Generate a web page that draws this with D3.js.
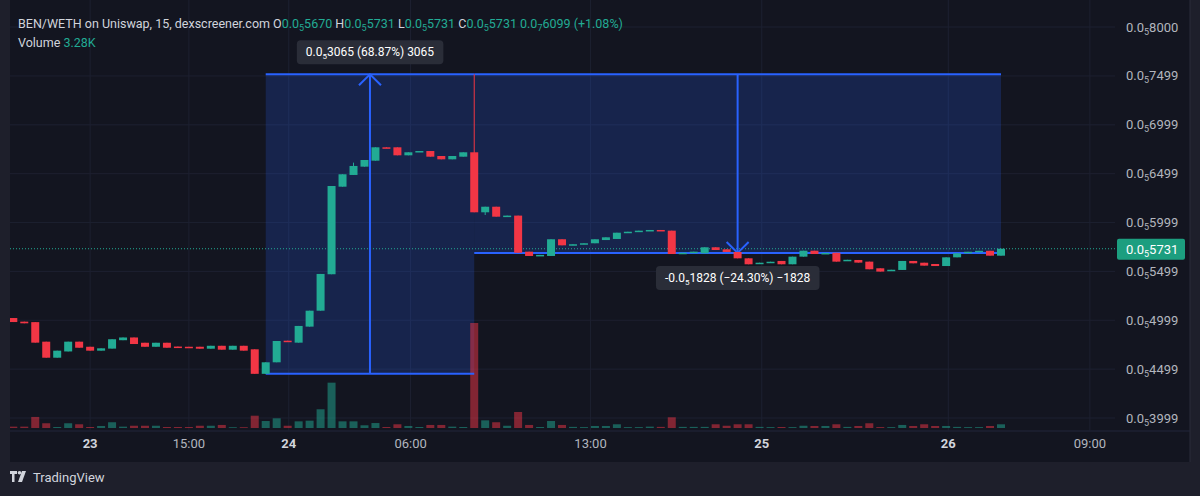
<!DOCTYPE html>
<html>
<head>
<meta charset="utf-8">
<script src="https://cdn.jsdelivr.net/npm/d3@7"></script>
<style>
  html, body { margin: 0; padding: 0; background: #1e1f2b; }
  svg { display: block; font-family: Roboto, "Open Sans", sans-serif; }
</style>
</head>
<body>
<div id="chart"></div>
<script>
// candles (price in units of 0.0₅xxxx)
var opens  = [5022,4985,4980,4780,4616,4680,4780,4728,4688,4709,4795,4823,4769,4728,4769,4730,4728,4728,4708,4738,4698,4738,4702,4451,4569,4790,4770,4934,5097,5470,6366,6486,6571,6632,6769,6769,6687,6725,6731,6680,6646,6673,6718,6104,6161,6059,6070,5701,5660,5657,5828,5766,5777,5787,5820,5831,5895,5905,5916,5923,5916,5685,5690,5684,5746,5725,5698,5633,5582,5592,5606,5572,5650,5711,5680,5690,5612,5616,5599,5531,5510,5514,5606,5588,5575,5554,5643,5690,5700,5710,5660];
var closes = [4981,4968,4770,4616,4688,4780,4718,4688,4712,4805,4823,4756,4728,4769,4718,4725,4722,4708,4738,4698,4738,4688,4451,4569,4787,4780,4941,5097,5473,6373,6493,6578,6639,6769,6760,6687,6718,6731,6673,6646,6680,6718,6104,6161,6059,6070,5690,5657,5668,5828,5766,5777,5787,5828,5848,5895,5905,5916,5923,5916,5677,5690,5701,5746,5718,5698,5633,5572,5588,5598,5572,5650,5711,5677,5688,5599,5618,5589,5521,5497,5516,5606,5582,5558,5554,5643,5684,5700,5710,5660,5731];
// wicks that stick out of the body (index -> value)
var highs = {31: 6612, 42: 7516};
var lows = {43: 6076};
// volume in K
var volumes = [1.2,1.2,9.8,4.2,0.9,4.2,3.3,0.9,1.8,5.1,1.2,2.0,2.0,2.0,0.9,0.9,0.9,2.0,2.0,2.7,0.7,0.7,10.9,6.2,8.6,2.0,5.9,6.5,16.6,40.2,5.9,5.9,2.4,4.4,0.9,3.3,1.8,0.9,2.7,2.7,1.2,0.9,93.1,6.8,5.1,2.0,14.2,2.7,0.9,6.2,2.7,1.0,0.8,1.8,1.8,3.3,0.8,0.8,1.2,1.0,9.5,1.0,1.0,1.0,3.3,2.0,3.3,3.3,1.0,0.8,0.9,0.8,2.0,1.8,1.8,3.3,1.0,1.8,4.2,0.8,0.8,2.7,1.8,3.3,1.8,1.8,1.0,0.8,0.8,1.8,3.28];

var priceTicks = [3999,4499,4999,5499,5999,6499,6999,7499,8000];
var timeLabels = ["23","15:00","24","06:00","13:00","25","26","09:00"];
var timeIndex  = [7,16,25.1,36.2,52.6,68.2,85.2,98.1];
var timeBold   = [true,false,true,false,false,true,true,false];

var lastPrice = 5731;

// measurement tool ranges
var measStart = [23, 42];
var measEnd   = [42, 90];
var measFrom  = [4451, 7516];
var measTo    = [7516, 5688];
var measLabel = [["0.0","5","3065 (68.87%) 3065"], ["-0.0","5","1828 (\u221224.30%) \u22121828"]];

var W = 1200, H = 496;
var plotL = 10, plotR = 1115, plotT = 0, plotB = 431;

var x = d3.scaleLinear().domain([0, 90]).range([13.3, 1001]);
var y = d3.scaleLinear().domain([3999, 8000]).range([418, 27]);
var yv = d3.scaleLinear().domain([0, 100]).range([428, 428 - 112.8]);

var green = "#22ab94", red = "#f23645";

var svg = d3.select("#chart").append("svg")
  .attr("width", W).attr("height", H);

svg.append("rect").attr("width", W).attr("height", H).attr("fill", "#1e1f2b");
svg.append("rect").attr("x", plotL).attr("y", 0).attr("width", 1190 - plotL).attr("height", 462)
  .attr("fill", "#131520");
svg.append("line").attr("x1", 1190).attr("x2", 1190).attr("y1", 0).attr("y2", 462)
  .attr("stroke", "#2a2d3a");
svg.append("line").attr("x1", plotL).attr("x2", 1190).attr("y1", plotB).attr("y2", plotB)
  .attr("stroke", "#23263a");

svg.append("defs").append("clipPath").attr("id", "plotclip")
  .append("rect").attr("x", plotL).attr("y", plotT).attr("width", plotR - plotL).attr("height", plotB - plotT);

var g = svg.append("g").attr("clip-path", "url(#plotclip)");

// grid
g.selectAll(".hgrid").data(priceTicks).enter().append("line")
  .attr("x1", plotL).attr("x2", plotR)
  .attr("y1", function (d) { return y(d); }).attr("y2", function (d) { return y(d); })
  .attr("stroke", "#1d2030");
g.selectAll(".vgrid").data(timeIndex).enter().append("line")
  .attr("y1", 0).attr("y2", plotB)
  .attr("x1", function (d) { return x(d); }).attr("x2", function (d) { return x(d); })
  .attr("stroke", "#1d2030");

// measurement boxes
measStart.forEach(function (s, i) {
  var x0 = x(s), x1 = x(measEnd[i]);
  var ya = y(measFrom[i]), yb = y(measTo[i]);
  g.append("rect").attr("x", x0).attr("width", x1 - x0)
    .attr("y", Math.min(ya, yb)).attr("height", Math.abs(ya - yb))
    .attr("fill", "rgba(41,98,255,0.2)");
});

// volume
g.selectAll(".vol").data(volumes).enter().append("rect")
  .attr("x", function (d, i) { return x(i) - 4; })
  .attr("width", 8)
  .attr("y", function (d) { return yv(d); })
  .attr("height", function (d) { return yv(0) - yv(d); })
  .attr("fill", function (d, i) { return closes[i] >= opens[i] ? "rgba(34,171,148,0.5)" : "rgba(242,54,69,0.5)"; });

// last price line
g.append("line").attr("x1", plotL).attr("x2", plotR)
  .attr("y1", y(lastPrice)).attr("y2", y(lastPrice))
  .attr("stroke", green).attr("stroke-dasharray", "1,2");

// measurement lines and arrows
measStart.forEach(function (s, i) {
  var x0 = x(s), x1 = x(measEnd[i]);
  var ya = y(measFrom[i]), yb = y(measTo[i]);
  var mx = (x0 + x1) / 2;
  [ya, yb].forEach(function (yy) {
    g.append("line").attr("x1", x0).attr("x2", x1).attr("y1", yy).attr("y2", yy)
      .attr("stroke", "#2962ff").attr("stroke-width", 2);
  });
  g.append("line").attr("x1", mx).attr("x2", mx).attr("y1", ya).attr("y2", yb)
    .attr("stroke", "#2962ff").attr("stroke-width", 2);
  var dir = yb < ya ? 1 : -1;
  g.append("path")
    .attr("d", "M" + (mx - 11) + "," + (yb + dir * 11) + "L" + mx + "," + yb + "L" + (mx + 11) + "," + (yb + dir * 11))
    .attr("fill", "none").attr("stroke", "#2962ff").attr("stroke-width", 2);
});

// candles
var cg = g.selectAll(".candle").data(opens).enter().append("g");
cg.append("line")
  .attr("x1", function (d, i) { return x(i); }).attr("x2", function (d, i) { return x(i); })
  .attr("y1", function (d, i) { return y(highs[i] !== undefined ? highs[i] : Math.max(d, closes[i])); })
  .attr("y2", function (d, i) { return y(lows[i] !== undefined ? lows[i] : Math.min(d, closes[i])); })
  .attr("stroke", function (d, i) { return closes[i] >= d ? green : red; });
cg.append("rect")
  .attr("x", function (d, i) { return x(i) - 4; })
  .attr("width", 8)
  .attr("y", function (d, i) { return y(Math.max(d, closes[i])); })
  .attr("height", function (d, i) { return Math.max(1.5, Math.abs(y(d) - y(closes[i]))); })
  .attr("fill", function (d, i) { return closes[i] >= d ? green : red; });

// measurement labels
function subText(sel, parts, size) {
  sel.append("tspan").text(parts[0]);
  sel.append("tspan").attr("font-size", size - 4).attr("dy", 3).text(parts[1]);
  sel.append("tspan").attr("dy", -3).text(parts[2]);
}
measStart.forEach(function (s, i) {
  var x0 = x(s), x1 = x(measEnd[i]);
  var ya = y(measFrom[i]), yb = y(measTo[i]);
  var mx = (x0 + x1) / 2;
  var up = yb < ya;
  var ly = up ? Math.min(ya, yb) - 34 : Math.max(ya, yb) + 13;
  var lg = svg.append("g");
  var t = lg.append("text").attr("x", mx).attr("y", ly + 16).attr("text-anchor", "middle")
    .attr("fill", "#ffffff").attr("font-size", 12);
  subText(t, measLabel[i], 12);
  var bb = t.node().getBBox();
  lg.insert("rect", "text").attr("x", bb.x - 9).attr("y", ly).attr("width", bb.width + 18).attr("height", 24)
    .attr("rx", 4).attr("fill", "#2a2d38");
});

// price axis
priceTicks.forEach(function (p) {
  var t = svg.append("text").attr("x", 1126).attr("y", y(p) + 4.5)
    .attr("fill", "#b2b5be").attr("font-size", 13);
  subText(t, ["0.0", "5", String(p)], 13);
});
svg.append("rect").attr("x", 1117).attr("y", y(lastPrice) - 10).attr("width", 68).attr("height", 21)
  .attr("rx", 2).attr("fill", "#1c9e7f");
var lt = svg.append("text").attr("x", 1126).attr("y", y(lastPrice) + 5)
  .attr("fill", "#ffffff").attr("font-size", 13);
subText(lt, ["0.0", "5", String(lastPrice)], 13);

// time axis
timeLabels.forEach(function (l, i) {
  svg.append("text").attr("x", x(timeIndex[i])).attr("y", 448)
    .attr("text-anchor", "middle").attr("font-size", 13)
    .attr("font-weight", timeBold[i] ? "bold" : "normal")
    .attr("fill", timeBold[i] ? "#d1d4dc" : "#b2b5be")
    .text(l);
});

// legend
var h1 = svg.append("text").attr("x", 18).attr("y", 28).attr("font-size", 12.5).attr("fill", "#d1d4dc");
h1.append("tspan").text("BEN/WETH on Uniswap, 15, dexscreener.com ");
[["O", "5670"], ["H", "5731"], ["L", "5731"], ["C", "5731"]].forEach(function (p) {
  h1.append("tspan").attr("fill", "#d1d4dc").text(" " + p[0]);
  h1.append("tspan").attr("fill", green).text("0.0");
  h1.append("tspan").attr("fill", green).attr("font-size", 9).attr("dy", 3).text("5");
  h1.append("tspan").attr("fill", green).attr("dy", -3).text(p[1]);
});
h1.append("tspan").attr("fill", green).text("  0.0");
h1.append("tspan").attr("fill", green).attr("font-size", 9).attr("dy", 3).text("7");
h1.append("tspan").attr("fill", green).attr("dy", -3).text("6099 (+1.08%)");

var h2 = svg.append("text").attr("x", 18).attr("y", 47).attr("font-size", 12.5).attr("fill", "#d1d4dc");
h2.append("tspan").text("Volume ");
h2.append("tspan").attr("fill", green).text(" 3.28K");

// TradingView logo
var logo = svg.append("g").attr("transform", "translate(10,471)").attr("fill", "#d1d4dc");
logo.append("path").attr("d", "M0,0H7V3H4.5V11H2V3H0Z");
logo.append("circle").attr("cx", 9.5).attr("cy", 1.8).attr("r", 1.8);
logo.append("path").attr("d", "M12,0H16L12,11H8Z");
svg.append("text").attr("x", 33).attr("y", 482).attr("font-size", 13).attr("fill", "#d1d4dc")
  .text("TradingView");
</script>
</body>
</html>
